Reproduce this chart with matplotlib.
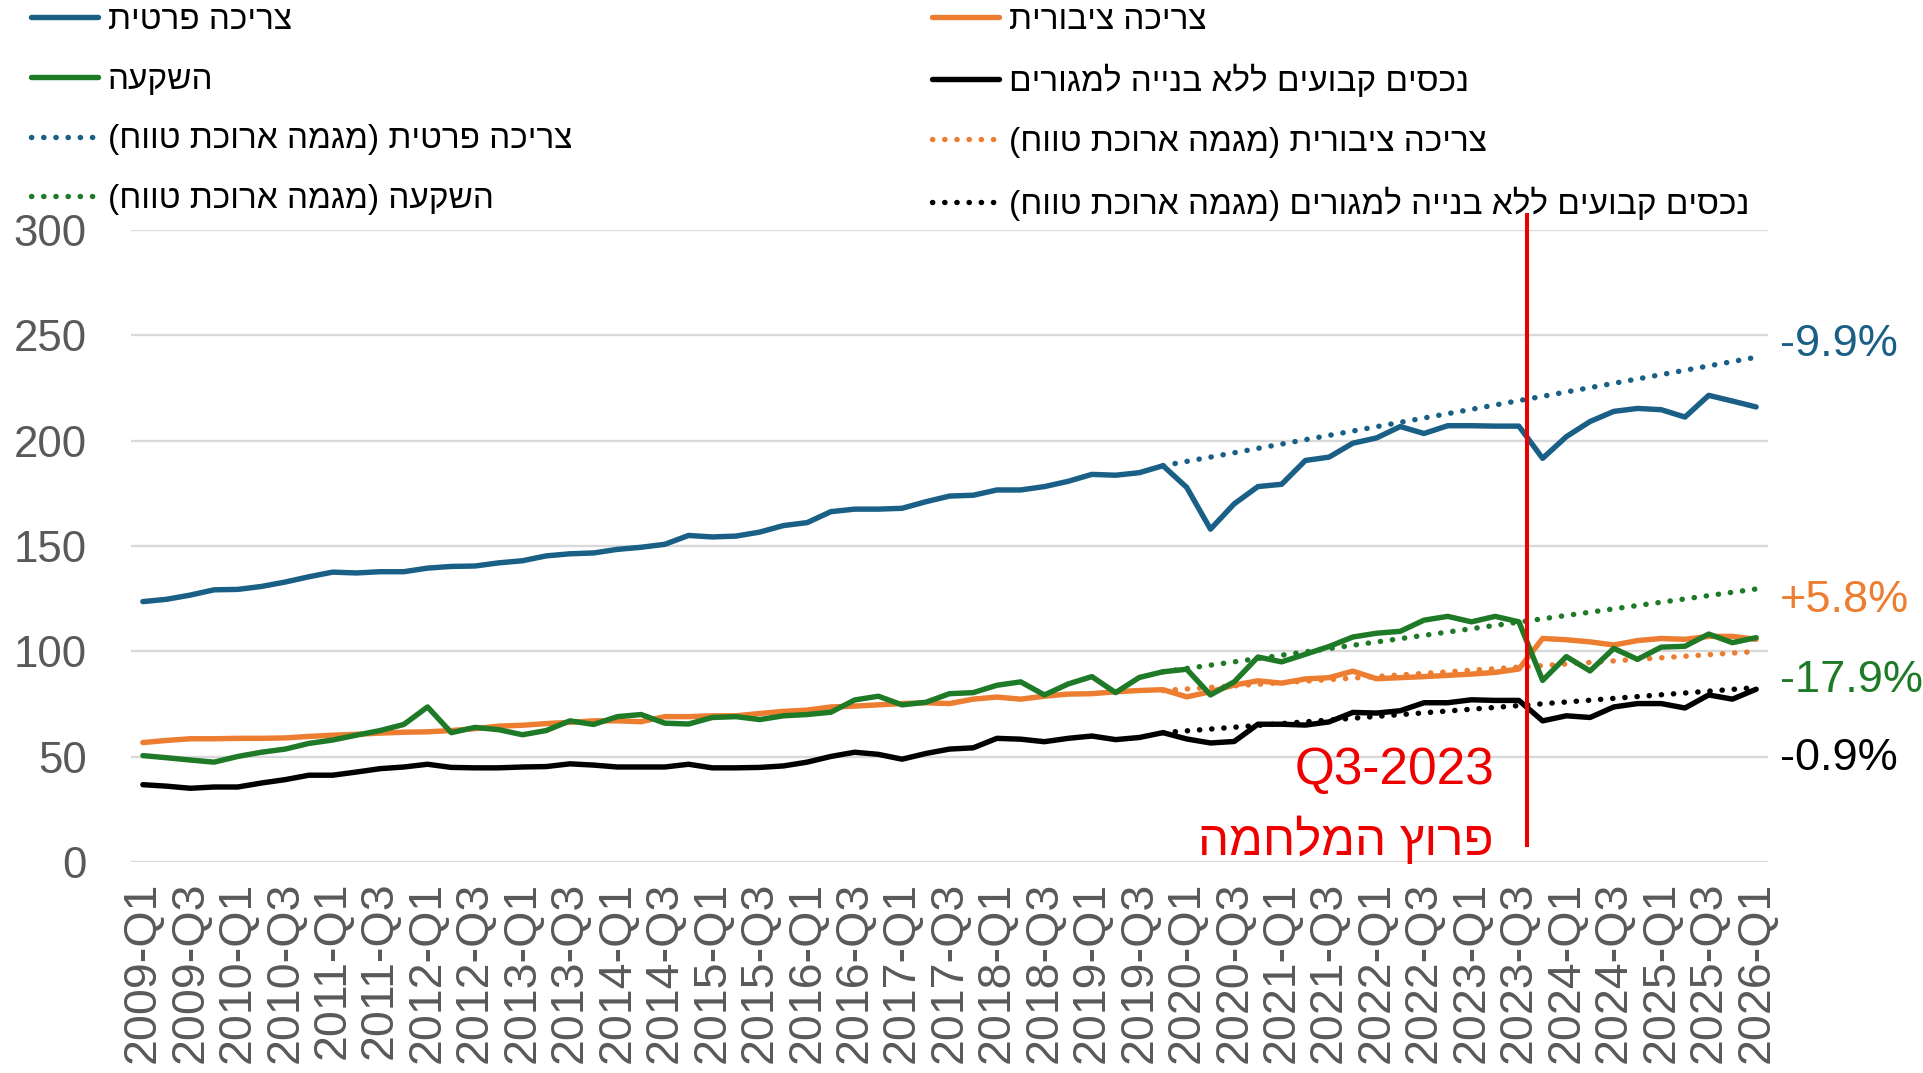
import matplotlib
matplotlib.use('Agg')
import matplotlib.pyplot as plt

plt.rcParams['font.family'] = ['Liberation Sans', 'DejaVu Sans']

quarters = [f'{y}-Q{q}' for y in range(2009, 2027) for q in range(1, 5)][:69]

# index values
private = [123.6, 124.7, 126.7, 129.2, 129.4, 130.8, 132.9, 135.4, 137.6, 137.2,
           137.8, 137.8, 139.5, 140.3, 140.5, 142.0, 143.0, 145.3, 146.3, 146.7,
           148.4, 149.4, 150.8, 155.0, 154.3, 154.7, 156.6, 159.7, 161.1, 166.3,
           167.5, 167.5, 167.9, 171.0, 173.7, 174.1, 176.6, 176.6, 178.2, 180.7,
           184.0, 183.6, 184.8, 188.1, 177.8, 158.0, 170.0, 178.2, 179.3, 190.6,
           192.2, 198.8, 201.3, 206.7, 203.4, 207.1, 207.1, 206.9, 206.9, 191.6,
           201.9, 209.1, 213.9, 215.3, 214.7, 211.2, 221.5, 218.8, 216.0]
public = [56.7, 57.7, 58.5, 58.5, 58.7, 58.7, 58.9, 59.6, 60.2, 60.6,
          61.2, 61.6, 61.8, 62.4, 63.3, 64.5, 64.9, 65.7, 66.3, 67.0,
          67.0, 66.6, 69.0, 69.0, 69.4, 69.4, 70.5, 71.5, 72.1, 73.6,
          74.0, 74.6, 75.2, 75.6, 75.2, 77.3, 78.3, 77.3, 78.7, 79.7,
          79.9, 80.8, 81.4, 81.8, 78.4, 80.8, 84.0, 86.0, 84.9, 86.9,
          87.5, 90.6, 87.0, 87.5, 88.0, 88.6, 89.2, 90.0, 91.6, 106.1,
          105.5, 104.5, 103.0, 105.1, 106.1, 105.7, 107.1, 107.1, 105.7]
invest = [50.5, 49.5, 48.4, 47.4, 50.1, 52.1, 53.6, 56.3, 57.9, 60.2,
          62.4, 65.3, 73.6, 61.4, 63.9, 62.8, 60.4, 62.4, 67.0, 65.3,
          69.0, 70.0, 65.9, 65.5, 68.6, 69.0, 67.6, 69.4, 70.0, 71.1,
          76.9, 78.7, 74.6, 75.8, 79.9, 80.4, 83.9, 85.5, 79.3, 84.5,
          88.0, 80.4, 87.6, 90.3, 91.5, 79.3, 85.5, 97.3, 95.0, 98.6,
          102.3, 106.8, 108.6, 109.5, 114.8, 116.6, 114.0, 116.6, 114.0, 86.2,
          97.5, 90.7, 101.4, 96.2, 102.0, 102.4, 108.2, 104.1, 106.5]
fixed = [36.7, 36.0, 35.0, 35.6, 35.6, 37.5, 39.1, 41.2, 41.2, 42.7,
         44.3, 45.1, 46.4, 44.9, 44.7, 44.7, 45.1, 45.3, 46.6, 46.0,
         45.1, 45.1, 45.1, 46.4, 44.7, 44.7, 44.9, 45.6, 47.4, 50.1,
         52.1, 51.1, 48.8, 51.5, 53.6, 54.2, 58.7, 58.3, 57.1, 58.7,
         59.8, 58.1, 59.1, 61.4, 58.4, 56.5, 57.2, 65.4, 65.4, 65.0,
         66.5, 71.0, 70.7, 71.8, 75.6, 75.6, 77.0, 76.7, 76.7, 67.0,
         69.4, 68.6, 73.6, 75.2, 75.2, 73.1, 79.3, 77.3, 82.0]

# long-term trends (dotted), 2019-Q4 to 2026-Q1
trend_q = ['2019-Q4', '2026-Q1']
trend_private = [188.1, 239.6]
trend_public = [81.4, 99.9]
trend_invest = [90.3, 129.6]
trend_fixed = [61.4, 82.8]

gap_labels = ['-9.9%', '+5.8%', '-17.9%', '-0.9%']
gap_y = [245.6, 123.9, 86.0, 48.9]

war_q = '2023-Q3'

blue = '#1a5f85'
orange = '#ed7d31'
green = '#1f7a28'
black = '#000000'
colors = [blue, orange, green, black]


def heb(s):
    # matplotlib has no bidi: reverse for right-to-left display
    s = s[::-1]
    return s.translate(str.maketrans('()', ')('))


names = ['צריכה פרטית', 'צריכה ציבורית', 'השקעה', 'נכסים קבועים ללא בנייה למגורים']
trend_suffix = ' (מגמה ארוכת טווח)'

x = list(range(len(quarters)))
tx = [quarters.index(q) for q in trend_q]

fig = plt.figure(figsize=(19.23, 10.73), dpi=100)
ax = fig.add_axes([131 / 1923, 1 - 862 / 1073, (1768 - 131) / 1923, (862 - 230) / 1073])

solid = []
dotted = []
for series, trend, c, n in zip([private, public, invest, fixed],
                               [trend_private, trend_public, trend_invest, trend_fixed],
                               colors, names):
    ln, = ax.plot(x, series, color=c, lw=3.9, solid_joinstyle='round',
                  solid_capstyle='round', label=heb(n), zorder=3)
    dl, = ax.plot(tx, trend, color=c, lw=3.9, linestyle=(0, (0.05, 2.2)),
                  dash_capstyle='round', label=heb(n + trend_suffix), zorder=2)
    solid.append(ln)
    dotted.append(dl)

for lab, yy, c in zip(gap_labels, gap_y, colors):
    ax.text(69.0, yy, lab, color=c, fontsize=32.5, ha='left', va='center', clip_on=False)

wx = quarters.index(war_q) + 0.35
ax.plot([wx, wx], [8, 307], color='#ee0000', lw=2.9, clip_on=False, zorder=4)
ax.text(wx - 1.4, 43.5, 'Q3-2023', color='#ee0000', fontsize=37, ha='right', va='center')
ax.text(wx - 1.4, 10, heb('פרוץ המלחמה'), color='#ee0000', fontsize=35.5, ha='right', va='center')

ax.set_xlim(-0.5, 68.5)
ax.set_ylim(0, 300)
ax.set_yticks(range(0, 301, 50))
ax.set_xticks(x[::2])
ax.set_xticklabels(quarters[::2], rotation=90)
ax.grid(axis='y', color='#d9d9d9', lw=1.7, zorder=0)
ax.set_axisbelow(True)
for s in ax.spines.values():
    s.set_visible(False)
ax.tick_params(axis='both', length=0, labelsize=31.5, labelcolor='#595959')
ax.tick_params(axis='x', labelsize=33.5, pad=14)
ax.tick_params(axis='y', pad=32)

leg_kw = dict(loc='upper left', frameon=False, fontsize=24, borderpad=0, borderaxespad=0,
              handlelength=2.0, handletextpad=0.3, labelspacing=0.86)
fig.legend([solid[0], solid[2], dotted[0], dotted[2]],
           [h.get_label() for h in [solid[0], solid[2], dotted[0], dotted[2]]],
           bbox_to_anchor=(31 / 1923, 1 - 5 / 1073), **leg_kw)
fig.legend([solid[1], solid[3], dotted[1], dotted[3]],
           [h.get_label() for h in [solid[1], solid[3], dotted[1], dotted[3]]],
           bbox_to_anchor=(932 / 1923, 1 - 5 / 1073), **leg_kw)

fig.savefig('out.png', dpi=100)
